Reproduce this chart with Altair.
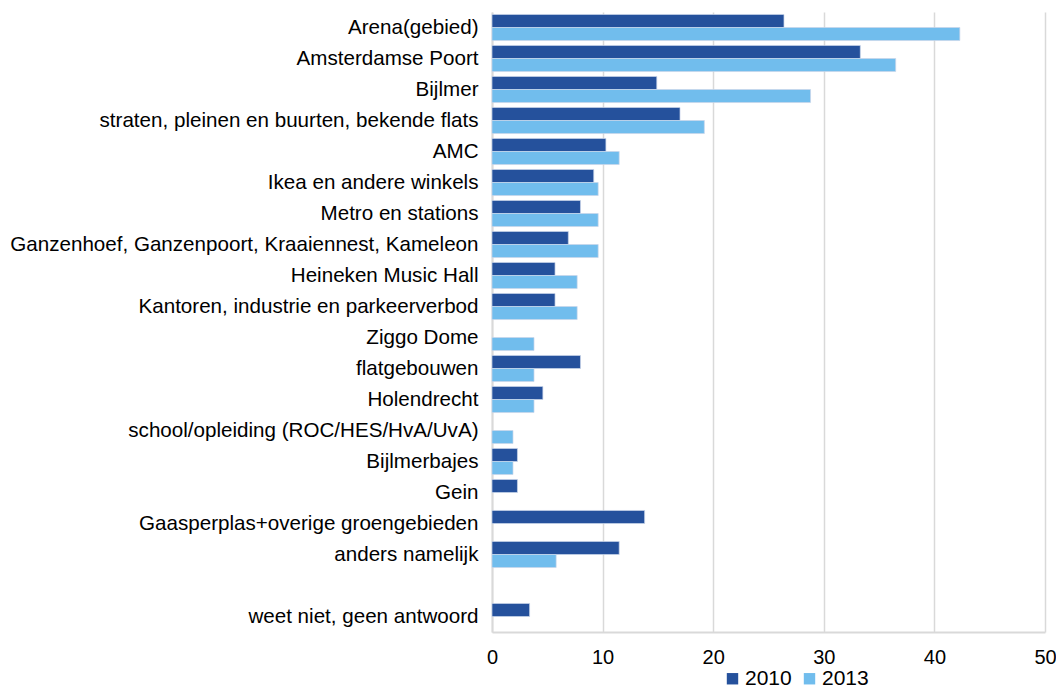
import altair as alt
import pandas as pd

categories = [
    "Arena(gebied)",
    "Amsterdamse Poort",
    "Bijlmer",
    "straten, pleinen en buurten, bekende flats",
    "AMC",
    "Ikea en andere winkels",
    "Metro en stations",
    "Ganzenhoef, Ganzenpoort, Kraaiennest, Kameleon",
    "Heineken Music Hall",
    "Kantoren, industrie en parkeerverbod",
    "Ziggo Dome",
    "flatgebouwen",
    "Holendrecht",
    "school/opleiding (ROC/HES/HvA/UvA)",
    "Bijlmerbajes",
    "Gein",
    "Gaasperplas+overige groengebieden",
    "anders namelijk",
    " ",
    "weet niet, geen antwoord",
]
values_2010 = [26.4, 33.3, 14.9, 17.0, 10.3, 9.2, 8.0, 6.9, 5.7, 5.7,
               None, 8.0, 4.6, None, 2.3, 2.3, 13.8, 11.5, None, 3.4]
values_2013 = [42.3, 36.5, 28.8, 19.2, 11.5, 9.6, 9.6, 9.6, 7.7, 7.7,
               3.8, 3.8, 3.8, 1.9, 1.9, None, None, 5.8, None, None]

rows = []
for c, a, b in zip(categories, values_2010, values_2013):
    rows.append({"cat": c, "jaar": "2010", "waarde": a})
    rows.append({"cat": c, "jaar": "2013", "waarde": b})
df = pd.DataFrame(rows).dropna()

FONT = "Liberation Sans"

chart = alt.Chart(df).mark_bar(
    stroke="#c9d6ea", strokeWidth=1, strokeOpacity=0.7
).encode(
    y=alt.Y("cat:N", sort=categories, title=None,
            scale=alt.Scale(domain=categories, paddingInner=0.16, paddingOuter=0.08),
            axis=alt.Axis(labelFontSize=20.6, labelFont=FONT, labelColor="#000000",
                          ticks=False, domainColor="#d9d9d9", domainWidth=2,
                          labelPadding=14, labelLimit=700)),
    yOffset=alt.YOffset("jaar:N", sort=["2010", "2013"]),
    x=alt.X("waarde:Q", title=None,
            scale=alt.Scale(domain=[0, 50], nice=False),
            axis=alt.Axis(values=[0, 10, 20, 30, 40, 50], labelFontSize=20,
                          labelFont=FONT, labelColor="#000000", labelFlush=False,
                          ticks=False, domainColor="#d9d9d9", domainWidth=2,
                          gridColor="#d9d9d9", gridWidth=1.5, labelPadding=15)),
    color=alt.Color("jaar:N",
                    scale=alt.Scale(domain=["2010", "2013"], range=["#25519C", "#71BDED"]),
                    legend=alt.Legend(title=None, orient="none", direction="horizontal",
                                      legendX=230, legendY=656, symbolType="square",
                                      symbolSize=130, symbolStrokeWidth=0,
                                      labelFontSize=21, labelFont=FONT,
                                      labelColor="#000000", columnPadding=7, labelOffset=2)),
).properties(
    width=553, height=620,
    autosize=alt.AutoSizeParams(type="none"),
    padding={"left": 484, "top": 4, "right": 11, "bottom": 56},
).configure_view(stroke=None)

chart.save("out.html", embed_options={"renderer": "svg", "actions": False})
